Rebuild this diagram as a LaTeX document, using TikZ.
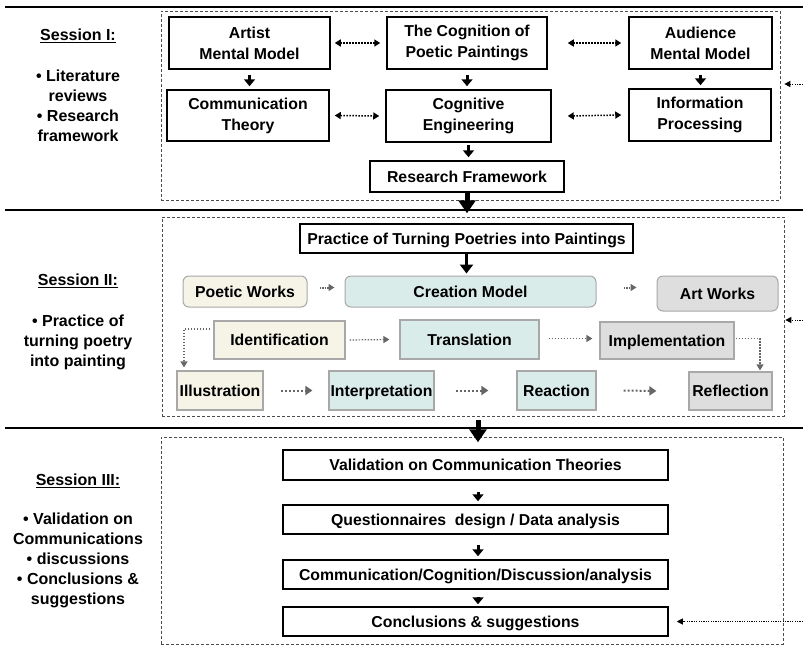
\documentclass[tikz,border=0pt]{standalone}
\usepackage{fontspec}
\setmainfont{Liberation Sans}
\usetikzlibrary{arrows.meta,calc}
\definecolor{cream}{HTML}{F5F4E6}
\definecolor{teal1}{HTML}{DAECEA}
\definecolor{gray1}{HTML}{DEDEDE}
\definecolor{edge1}{HTML}{A8A8A8}
\definecolor{dgray}{HTML}{666666}
\begin{document}
\begin{tikzpicture}[x=1pt,y=-1pt,
  every node/.style={font=\bfseries\fontsize{15.8}{21}\selectfont, align=center, inner sep=0pt},
  bbox/.style={draw=black, line width=1.5pt},
  one/.style={text height=11.2pt, text depth=0pt},
  rbox/.style={one, draw=edge1, line width=1pt, rounded corners=6pt},
  cbox/.style={one, draw=edge1, line width=1.2pt},
  dbox/.style={draw=black!70, line width=0.7pt, dash pattern=on 3pt off 2pt},
  sep/.style={line width=1.6pt},
  down/.style={line width=3pt, -{Triangle[width=11pt,length=7pt]}},
  bigdown/.style={line width=5pt, -{Triangle[width=17pt,length=13pt]}},
  biarr/.style={line width=1.5pt, dash pattern=on 1.5pt off 1.5pt, {Triangle[width=7pt,length=6pt]}-{Triangle[width=7pt,length=6pt]}},
  garr/.style={draw=dgray, line width=1.2pt, dash pattern=on 1.5pt off 1.5pt, -{Triangle[width=7pt,length=6pt]}},
  sarr/.style={draw=dgray, line width=2pt, dash pattern=on 2pt off 2pt, -{Triangle[width=9pt,length=7pt]}},
  rarr/.style={line width=1pt, dash pattern=on 1.2pt off 1.2pt, -{Triangle[width=6pt,length=6pt]}},
  lab/.style={font=\bfseries\fontsize{16}{20}\selectfont}
]
\useasboundingbox (0,0) rectangle (803,645);

% separators
\draw[sep] (5,7) -- (803,7);
\draw[sep] (5,210) -- (803,210);
\draw[sep] (5,428) -- (803,428);

% dashed session boxes
\node[dbox, minimum width=619pt, minimum height=189pt] (box1) at (470.5,105.5) {};
\node[dbox, minimum width=622pt, minimum height=199pt] (box2) at (473,316.5) {};
\node[dbox, minimum width=622pt, minimum height=207pt] (box3) at (472,540.5) {};

% session labels
\node[lab] (s1) at (78,36) {\underline{Session I:}};
\node[lab] (s1t) at (78,105.5) {• Literature\\reviews\\• Research\\framework};
\node[lab] (s2) at (78,281) {\underline{Session II:}};
\node[lab] (s2t) at (78,342) {• Practice of\\turning poetry\\into painting};
\node[lab] (s3) at (78,481) {\underline{Session III:}};
\node[lab] (s3t) at (78,560) {• Validation on\\Communications\\• discussions\\• Conclusions \&\\suggestions};

% Session I boxes
\node[bbox, minimum width=161pt, minimum height=52pt] (art) at (249.5,43) {Artist\\Mental Model};
\node[bbox, minimum width=162pt, minimum height=51pt] (comm) at (248,115.5) {Communication\\Theory};
\node[bbox, minimum width=160pt, minimum height=52pt] (cog) at (467,43) {The Cognition of\\Poetic Paintings};
\node[bbox, minimum width=165pt, minimum height=52pt] (ceng) at (468.5,116) {Cognitive\\Engineering};
\node[bbox, one, minimum width=194pt, minimum height=31pt] (rf) at (467,176.5) {Research Framework};
\node[bbox, minimum width=143pt, minimum height=52pt] (aud) at (700.5,43) {Audience\\Mental Model};
\node[bbox, minimum width=142pt, minimum height=52pt] (info) at (700,115) {Information\\Processing};

\draw[biarr] ([xshift=4pt]art.east) -- ([xshift=-6pt]cog.west);
\draw[biarr] ([xshift=20pt]cog.east) -- ([xshift=-7pt]aud.west);
\draw[biarr] ([xshift=5pt]comm.east) -- ([xshift=-6pt]ceng.west);
\draw[biarr] ([xshift=16pt]ceng.east) -- ([xshift=-7pt]info.west);

\draw[down, shorten <=5pt, shorten >=3pt] (art.south) -- (art.south |- comm.north);
\draw[down, shorten <=5pt, shorten >=3pt] (cog.south) -- (cog.south |- ceng.north);
\draw[down, shorten <=5pt, shorten >=3pt] (aud.south) -- (aud.south |- info.north);
\draw[down, shorten <=2pt, shorten >=3pt] (ceng.south) -- (ceng.south |- rf.north);

% Session II boxes
\node[bbox, one, minimum width=333pt, minimum height=29pt] (prac) at (466.5,238.5) {Practice of Turning Poetries into Paintings};
\draw[bigdown, shorten >=10pt] (rf.south) -- (rf.south |- prac.north);

\node[rbox, fill=cream, minimum width=124pt, minimum height=31pt] (pw) at (245,291.5) {Poetic Works};
\node[rbox, fill=teal1, minimum width=251pt, minimum height=31pt] (cm) at (470.5,291.5) {Creation Model};
\node[rbox, fill=gray1, minimum width=121pt, minimum height=35pt] (aw) at (717.5,293.5) {Art Works};

\draw[down, line width=3.5pt, -{Triangle[width=13pt,length=9pt]}, shorten >=2pt] (prac.south) -- (prac.south |- cm.north);

\node[cbox, fill=cream, minimum width=131pt, minimum height=38pt] (ident) at (279.5,340) {Identification};
\node[cbox, fill=teal1, minimum width=139pt, minimum height=39pt] (trans) at (469.5,339.5) {Translation};
\node[cbox, fill=gray1, minimum width=134pt, minimum height=37pt] (impl) at (667,340.5) {Implementation};

\node[cbox, fill=cream, minimum width=86pt, minimum height=39pt] (illu) at (220,390.5) {Illustration};
\node[cbox, fill=teal1, minimum width=105pt, minimum height=39pt] (interp) at (381.5,390.5) {Interpretation};
\node[cbox, fill=teal1, minimum width=79pt, minimum height=39pt] (react) at (556.5,390.5) {Reaction};
\node[cbox, fill=gray1, minimum width=83pt, minimum height=38pt] (refl) at (730.5,391) {Reflection};

\draw[garr, line width=2pt, dash pattern=on 1.5pt off 1pt] ([xshift=12pt,yshift=4pt]pw.east) -- ([xshift=-10pt,yshift=4pt]cm.west);
\draw[garr, line width=2pt, dash pattern=on 1.5pt off 1pt] ([xshift=27pt,yshift=4pt]cm.east) -- ([xshift=-20pt,yshift=6pt]aw.west);
\draw[garr] ([xshift=4pt]ident.east) -- ([xshift=-10pt]trans.west);
\draw[garr] ([xshift=9pt,yshift=1pt]trans.east) -- ([xshift=-7pt,yshift=2pt]impl.west);
\draw[garr] ([xshift=-3pt,yshift=11pt]ident.west) -| ([xshift=-36pt,yshift=3pt]illu.north);
\draw[garr] ([xshift=1pt,yshift=2pt]impl.east) -| ([xshift=29.5pt,yshift=1pt]refl.north);

\draw[sarr] ([xshift=17pt]illu.east) -- ([xshift=-16pt]interp.west);
\draw[sarr] ([xshift=21pt]interp.east) -- ([xshift=-28pt]react.west);
\draw[sarr] ([xshift=27pt]react.east) -- ([xshift=-32pt]refl.west);

% Session III boxes
\node[bbox, one, minimum width=385pt, minimum height=30pt] (v1) at (475.5,465) {Validation on Communication Theories};
\node[bbox, one, minimum width=385pt, minimum height=29pt] (v2) at (475.5,519.5) {Questionnaires\ \ design / Data analysis};
\node[bbox, one, minimum width=385pt, minimum height=29pt] (v3) at (475.5,574.5) {Communication/Cognition/Discussion/analysis};
\node[bbox, one, minimum width=385pt, minimum height=29pt] (v4) at (475.5,621.5) {Conclusions \& suggestions};

\coordinate (t3) at ($(v1.north)+(2.5,0)$);
\draw[bigdown, shorten <=4pt, shorten >=7pt] (box2.south -| t3) -- (t3);
\draw[down, shorten <=11pt, shorten >=3pt] ($(v1.south)+(2.5,0)$) -- ($(v2.north)+(2.5,0)$);
\draw[down, shorten <=10pt, shorten >=3pt] ($(v2.south)+(2.5,0)$) -- ($(v3.north)+(2.5,0)$);
\draw[down, shorten <=7pt, shorten >=2pt] ($(v3.south)+(2.5,0)$) -- ($(v4.north)+(2.5,0)$);

% feedback arrows from the right
\coordinate (r1) at (803,84);
\coordinate (r2) at (803,320);
\coordinate (r3) at (803,621.5);
\draw[rarr] (r1) -- ($(box1.east |- r1)+(4,0)$);
\draw[rarr] (r2) -- ($(box2.east |- r2)+(1,0)$);
\draw[rarr] (r3) -- ($(v4.east |- r3)+(8,0)$);
\end{tikzpicture}
\end{document}
